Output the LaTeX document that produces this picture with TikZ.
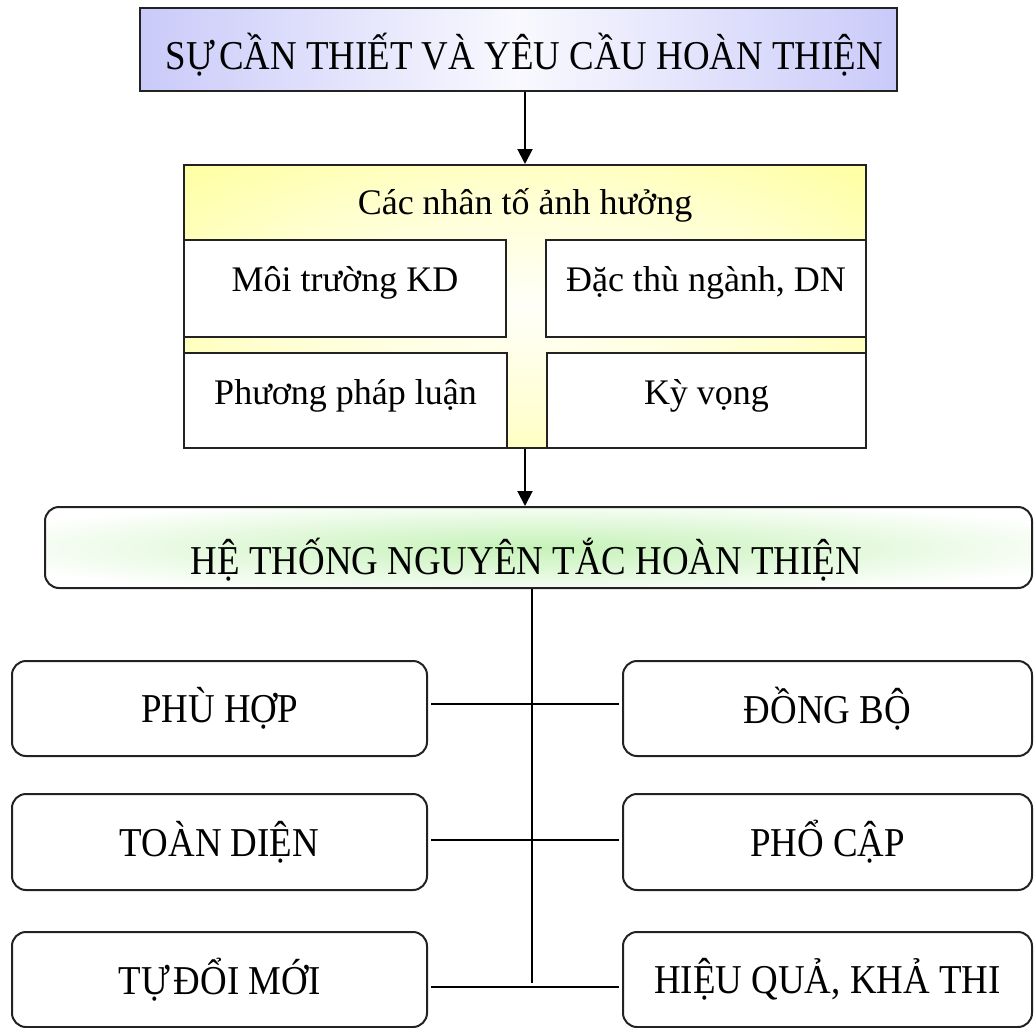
\documentclass[tikz,border=0pt]{standalone}
\usepackage{fontspec}
\setmainfont{Liberation Serif}
\newfontfamily\narrowserif{Liberation Serif}[FakeStretch=0.9]
\usetikzlibrary{arrows.meta,calc}

\definecolor{lav}{HTML}{CACAFA}
\definecolor{yel}{HTML}{FFFF99}
\definecolor{glow}{HTML}{C6F2B8}
\definecolor{edge}{HTML}{222222}

% soft yellow glow for the factor panel, green glow for the principle bar
\pgfdeclareradialshading{yellowglow}{\pgfpoint{0bp}{0bp}}{%
  color(0bp)=(yel!6!white); color(20bp)=(yel!45!white);
  color(38bp)=(yel); color(50bp)=(yel)}
\pgfdeclareradialshading{greenglow}{\pgfpoint{0bp}{0bp}}{%
  color(0bp)=(glow); color(14bp)=(glow!55!white);
  color(30bp)=(white); color(50bp)=(white)}

\begin{document}
\begin{tikzpicture}[x=1pt,y=-1pt,
  capsfont/.style={font=\narrowserif\fontsize{41}{44}\selectfont},
  lowfont/.style={font=\fontsize{36}{40}\selectfont},
  plainbox/.style={draw=edge, line width=2pt, inner sep=0pt, fill=white},
  roundbox/.style={draw=edge, line width=2pt, inner sep=0pt, fill=white,
                   rounded corners=14pt, capsfont,
                   minimum width=415pt, minimum height=95pt},
  arr/.style={line width=2pt, -{Triangle[width=15pt,length=15pt]}},
  link/.style={line width=2pt}]
\useasboundingbox (0,0) rectangle (1034,1028);

% heading bar
\node[draw=edge, line width=2.2pt, inner sep=0pt,
      left color=lav, right color=lav, middle color=lav!12!white,
      minimum width=757pt, minimum height=83pt,
      label={[capsfont,xshift=6pt,yshift=-5pt]center:SỰ\kern4pt CẦN THIẾT VÀ YÊU CẦU HOÀN THIỆN}]
  (need) at (518.5,49.5) {};

% factor panel
\node[draw=edge, line width=2pt, inner sep=0pt, shade, shading=yellowglow,
      minimum width=682pt, minimum height=283pt] (grp) at (525,306.5) {};
\node[lowfont] (grptitle) at (525,205) {Các nhân tố ảnh hưởng};
\node[plainbox, minimum width=322pt, minimum height=97pt,
      label={[lowfont,yshift=6pt]center:Môi trường KD}] (env) at (345,288.5) {};
\node[plainbox, minimum width=320pt, minimum height=97pt,
      label={[lowfont,yshift=6pt]center:Đặc thù ngành, DN}] (ind) at (706,288.5) {};
\node[plainbox, minimum width=323pt, minimum height=95pt,
      label={[lowfont,yshift=4.5pt]center:Phương pháp luận}] (meth) at (345.5,400.5) {};
\node[plainbox, minimum width=319pt, minimum height=95pt,
      label={[lowfont,yshift=4.5pt]center:Kỳ vọng}] (expc) at (706.5,400.5) {};

% principle bar
\node[draw=edge, line width=2pt, inner sep=0pt, rounded corners=14pt,
      shade, shading=greenglow,
      minimum width=987pt, minimum height=81pt,
      label={[capsfont,xshift=-12pt,yshift=-12pt]center:HỆ THỐNG NGUYÊN TẮC HOÀN THIỆN}]
  (sys) at (538.5,547.5) {};

% principles
\node[roundbox] (l1) at (219.5,708.5) {PHÙ HỢP};
\node[roundbox, minimum height=96pt] (l2) at (219.5,842) {TOÀN DIỆN};
\node[roundbox] (l3) at (219.5,979.5) {TỰ\kern4pt ĐỔI MỚI};
\node[roundbox, minimum width=409pt] (r1) at (827.5,708.5) {ĐỒNG BỘ};
\node[roundbox, minimum width=409pt, minimum height=96pt] (r2) at (827.5,842) {PHỔ CẬP};
\node[roundbox, minimum width=409pt] (r3) at (827.5,979.5) {HIỆU QUẢ, KHẢ THI};

% connectors
\draw[arr] (grp.north |- need.south) -- (grp.north);
\draw[arr] (grp.south) -- (grp.south |- sys.north);
\coordinate (spineend) at (532,983);
\draw[link] (spineend |- sys.south) -- (spineend);
\draw[link, shorten <=3pt, shorten >=3pt] ([yshift=4.5pt]l1.east) -- ([yshift=4.5pt]r1.west);
\draw[link, shorten <=3pt, shorten >=3pt] ([yshift=2pt]l2.east) -- ([yshift=2pt]r2.west);
\draw[link, shorten <=3pt, shorten >=3pt] ([yshift=-7.5pt]l3.east) -- ([yshift=-7.5pt]r3.west);
\end{tikzpicture}
\end{document}
